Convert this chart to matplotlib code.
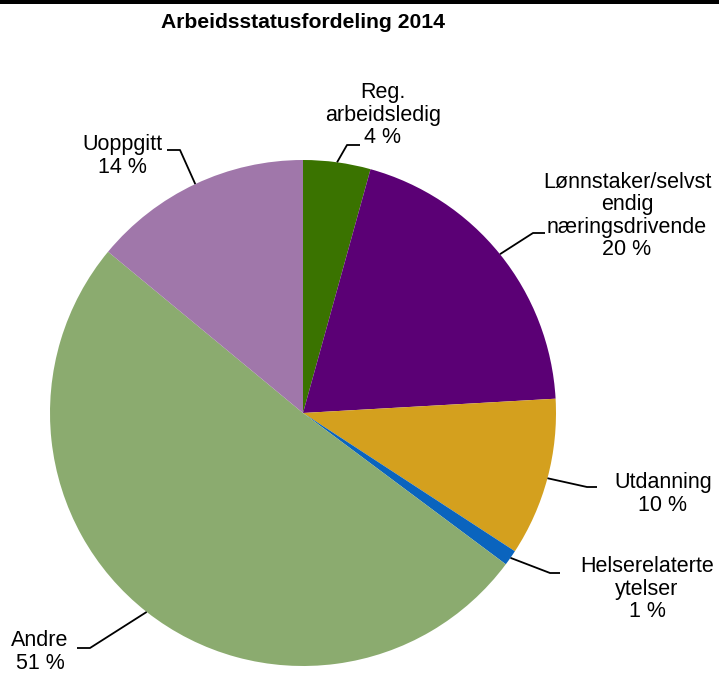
import numpy as np
import matplotlib
matplotlib.use("Agg")
import matplotlib.pyplot as plt
from matplotlib.patches import Rectangle

plt.rcParams['font.family'] = ['Liberation Sans', 'DejaVu Sans']

title = "Arbeidsstatusfordeling 2014"
categories = ["Reg.\narbeidsledig", "Lønnstaker/selvst\nendig\nnæringsdrivende",
              "Utdanning", "Helserelaterte\nytelser", "Andre", "Uoppgitt"]
shares = [4.3, 19.8, 10.1, 1.0, 50.8, 14.0]
pct_labels = ["4 %", "20 %", "10 %", "1 %", "51 %", "14 %"]
colors = ["#3a7300", "#5b0075", "#d4a01e", "#0a64be", "#8bab6f", "#a077aa"]

W, H = 719, 673
fig = plt.figure(figsize=(W / 100, H / 100), dpi=100)
ax = fig.add_axes([0, 0, 1, 1])

cx, cy, r = 303, H - 413, 253
wedges, _ = ax.pie(shares, colors=colors, startangle=90, counterclock=False,
                   center=(cx, cy), radius=r, frame=True,
                   wedgeprops=dict(linewidth=0))
ax.set_xlim(0, W)
ax.set_ylim(0, H)
ax.axis("off")

# label layout: (text centre x, text centre y, elbow point, line end) in pixels from top
layout = [
    (383, 115, (347, 145), (360, 145)),
    (627, 216, (533, 233), (545, 233)),
    (663, 494, (587, 487), (597, 487)),
    (647, 589, (550, 573), (560, 573)),
    (40, 652, (90, 648), (77, 648)),
    (122, 156, (180, 150), (167, 150)),
]

for w, cat, pct, (tx, ty, elbow, end) in zip(wedges, categories, pct_labels, layout):
    mid = np.deg2rad((w.theta1 + w.theta2) / 2)
    ex, ey = cx + r * np.cos(mid), cy + r * np.sin(mid)
    ax.plot([ex, elbow[0], end[0]], [ey, H - elbow[1], H - end[1]],
            color="black", lw=1.3, solid_capstyle="butt")
    ax.text(tx, H - ty, f"{cat}\n{pct}", ha="center", va="center",
            multialignment="center", fontsize=15.5, linespacing=1.08, color="black")

fig.text(303 / W, 1 - 23 / H, title, ha="center", va="center",
         fontsize=15.2, fontweight="bold")

fig.patches.append(Rectangle((0, 1 - 3.5 / H), 1, 3.5 / H, transform=fig.transFigure,
                             facecolor="black", edgecolor="none"))

fig.savefig("out.png", dpi=100)
